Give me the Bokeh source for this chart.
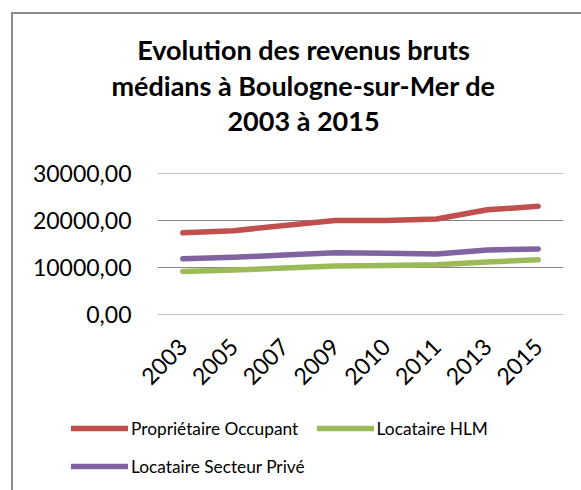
from bokeh.plotting import figure
from bokeh.layouts import column
from bokeh.models import (FactorRange, Range1d, FixedTicker, Legend, LegendItem, Label)
from bokeh.embed import file_html
from bokeh.resources import INLINE
import math

# ---- data ----
years = ["2003", "2005", "2007", "2009", "2010", "2011", "2013", "2015"]
proprietaire = [17400, 17850, 18950, 20000, 20000, 20350, 22300, 23050]
locataire_hlm = [9150, 9450, 9850, 10300, 10400, 10550, 11150, 11650]
locataire_prive = [11850, 12150, 12650, 13150, 13000, 12850, 13700, 13950]
series = [proprietaire, locataire_hlm, locataire_prive]
series_names = ["Propriétaire Occupant", "Locataire HLM", "Locataire Secteur Privé"]
y_ticks = [0, 10000, 20000, 30000]
y_tick_labels = ["0,00", "10000,00", "20000,00", "30000,00"]
title_lines = ["Evolution des revenus bruts",
               "médians à Boulogne-sur-Mer de",
               "2003 à 2015"]

colors = ["#C0504D", "#9BBB59", "#8064A2"]
FONT = "Lato"
BORDER = "#8C8C8C"
W = 581
H_TITLE, H_MAIN, H_LEG = 150, 265, 75


def border_css(top):
    imgs = [f"linear-gradient({BORDER},{BORDER})"]
    sizes = ["2px 100%"]
    pos = ["11px 12px" if top else "11px 0px"]
    if top:
        imgs.append(f"linear-gradient({BORDER},{BORDER})")
        sizes.append("100% 2px")
        pos.append("11px 12px")
    return {"background-color": "white", "background-image": ", ".join(imgs),
            "background-size": ", ".join(sizes), "background-position": ", ".join(pos),
            "background-repeat": "no-repeat"}


def no_frame_align(f):
    try:
        f.frame_align = False
    except AttributeError:
        pass


def blank_fig(h):
    f = figure(width=W, height=h, x_range=Range1d(0, W), y_range=Range1d(h, 0),
               output_backend="svg", toolbar_location=None,
               x_axis_location=None, y_axis_location=None, min_border=0)
    f.outline_line_color = None
    f.background_fill_alpha = 0
    f.border_fill_alpha = 0
    f.grid.visible = False
    no_frame_align(f)
    return f


# ---- title ----
tf = blank_fig(H_TITLE)
tf.styles = border_css(True)
for t, yb in zip(title_lines, [49, 85, 120]):
    tf.add_layout(Label(x=303, y=yb, text=t, text_font=FONT, text_font_style="bold",
                        text_font_size="27px", text_align="center",
                        text_baseline="alphabetic", text_color="black"))

# ---- main chart ----
p = figure(width=W, height=H_MAIN, x_range=FactorRange(*years), y_range=Range1d(-60, 30060),
           output_backend="svg", toolbar_location=None,
           min_border_left=157, min_border_right=18, min_border_top=23,
           min_border_bottom=101)
no_frame_align(p)
p.outline_line_color = None
p.background_fill_color = "white"
p.border_fill_alpha = 0
p.styles = border_css(False)

p.xgrid.grid_line_color = None
p.ygrid.grid_line_color = "#868686"
p.ygrid.grid_line_width = 1.2
p.yaxis.ticker = FixedTicker(ticks=y_ticks)
p.ygrid.ticker = FixedTicker(ticks=y_ticks)
p.yaxis.major_label_overrides = {t: l for t, l in zip(y_ticks, y_tick_labels)}

for ax in (p.xaxis, p.yaxis):
    ax.axis_line_color = None
    ax.major_tick_line_color = None
    ax.minor_tick_line_color = None
    ax.major_tick_out = 0
    ax.major_tick_in = 0
    ax.major_label_text_font = FONT
    ax.major_label_text_font_size = "23px"
    ax.major_label_text_color = "black"
p.yaxis.major_label_standoff = 26
p.xaxis.major_label_standoff = 28
p.xaxis.major_label_orientation = math.pi / 4

for vals, c in zip(series, colors):
    p.line(years, vals, line_color=c, line_width=5.5, line_join="round", line_cap="round")

# ---- legend (its own strip; the series are re-plotted there outside the visible range) ----
lf = blank_fig(H_LEG)
lf.styles = border_css(False)
swatches = [lf.line(x=list(range(len(years))), y=vals, line_color=c, line_width=5.5,
                    line_cap="round")
            for vals, c in zip(series, colors)]
legend = Legend(items=[LegendItem(label=n, renderers=[r]) for n, r in zip(series_names, swatches)],
                location=(71, 11), orientation="horizontal", ncols=2,
                padding=0, margin=0, spacing=12, label_standoff=3,
                glyph_width=57, glyph_height=26, label_height=26,
                label_text_font=FONT, label_text_font_size="17.3px",
                label_text_color="black",
                border_line_alpha=0, background_fill_alpha=0)
lf.add_layout(legend, "center")

layout = column(tf, p, lf, spacing=0)
open("out.html", "w").write(file_html(layout, INLINE))
